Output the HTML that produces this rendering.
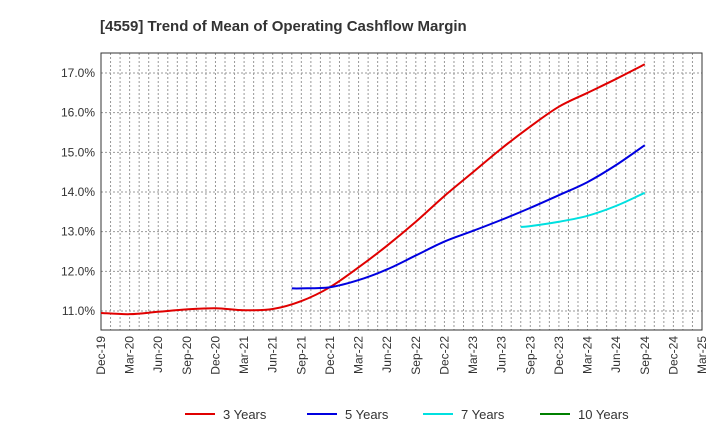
<!DOCTYPE html>
<html><head><meta charset="utf-8"><style>
body{margin:0;background:#fff;font-family:"Liberation Sans",sans-serif}
</style></head><body>
<svg id="c" width="720" height="440" xmlns="http://www.w3.org/2000/svg">
<text x="100" y="31" font-size="15" font-weight="bold" fill="#333">[4559]  Trend of Mean of Operating Cashflow Margin</text>
<g id="grid"></g><g id="axes"></g><g id="series"></g><g id="legend"></g>
</svg>
<script>
const xLabels=["Dec-19","Mar-20","Jun-20","Sep-20","Dec-20","Mar-21","Jun-21","Sep-21","Dec-21","Mar-22","Jun-22","Sep-22","Dec-22","Mar-23","Jun-23","Sep-23","Dec-23","Mar-24","Jun-24","Sep-24","Dec-24","Mar-25"];
const yTicks=[11,12,13,14,15,16,17];
const m3=[0,3,6,9,12,15,18,21,24,27,30,33,36,39,42,45,48,51,54,57];
const s3=[10.95,10.92,10.98,11.04,11.07,11.02,11.05,11.25,11.6,12.1,12.65,13.25,13.9,14.5,15.1,15.65,16.15,16.5,16.85,17.22];
const m5=[20,21,24,27,30,33,36,39,42,45,48,51,54,57];
const s5=[11.57,11.57,11.6,11.78,12.05,12.4,12.75,13.02,13.3,13.6,13.92,14.25,14.68,15.18];
const m7=[44,45,48,51,54,57];
const s7=[13.12,13.14,13.25,13.4,13.65,13.98];
const m10=[];
const s10=[];
const names=["3 Years","5 Years","7 Years","10 Years"];
const colors=["#e00000","#0000e0","#00e0e0","#008000"];
const L=101,R=702,T=53,B=330;
const xm=m=>L+m*(R-L)/63;
const xq=i=>xm(i*3);
const y=v=>311-(v-11)*39.67;
const ns="http://www.w3.org/2000/svg";
function mk(t,a,p){const e=document.createElementNS(ns,t);for(const k in a)e.setAttribute(k,a[k]);p.appendChild(e);return e;}
const g=document.getElementById('grid'),ax=document.getElementById('axes'),se=document.getElementById('series'),lg=document.getElementById('legend');
for(let m=1;m<63;m++){const x=xm(m);const l=mk('line',{x1:x,x2:x,y1:T,y2:B,stroke:'#999','stroke-dasharray':'2,2','stroke-width':1},g);

}
yTicks.forEach(v=>{const l=mk('line',{x1:L,x2:R,y1:y(v),y2:y(v),stroke:'#999','stroke-dasharray':'2,2'},g);


const t=mk('text',{x:L-6,y:y(v)+4,'text-anchor':'end','font-size':12,fill:'#333'},ax);t.textContent=v.toFixed(1)+'%';

});
const fr=mk('rect',{x:L,y:T,width:R-L,height:B-T,fill:'none',stroke:'#333','stroke-width':1},ax);


xLabels.forEach((s,i)=>{const x=xq(i);const t=mk('text',{x:x+4,y:B+6,'text-anchor':'end','font-size':12,fill:'#333',transform:`rotate(-90 ${x+4} ${B+6})`},ax);t.textContent=s;

});
function path(pts){if(pts.length<2)return '';let d=`M${pts[0][0]},${pts[0][1]}`;for(let i=0;i<pts.length-1;i++){const p0=pts[i-1]||pts[i],p1=pts[i],p2=pts[i+1],p3=pts[i+2]||p2;
d+=` C${p1[0]+(p2[0]-p0[0])/6},${p1[1]+(p2[1]-p0[1])/6} ${p2[0]-(p3[0]-p1[0])/6},${p2[1]-(p3[1]-p1[1])/6} ${p2[0]},${p2[1]}`;}return d;}
const months=[m3,m5,m7,m10];
[s3,s5,s7,s10].forEach((s,k)=>{const pts=s.map((v,i)=>[xm(months[k][i]),y(v)]);if(pts.length<2)return;
const p=mk('path',{d:path(pts),fill:'none',stroke:colors[k],'stroke-width':2},se);

});
const lx=[185,307,423,540];
names.forEach((n,k)=>{const gg=mk('g',{},lg);


mk('line',{x1:lx[k],x2:lx[k]+30,y1:414,y2:414,stroke:colors[k],'stroke-width':2},gg);
const t=mk('text',{x:lx[k]+38,y:419,'font-size':13,fill:'#333'},gg);t.textContent=n;});
</script>
</body></html>
